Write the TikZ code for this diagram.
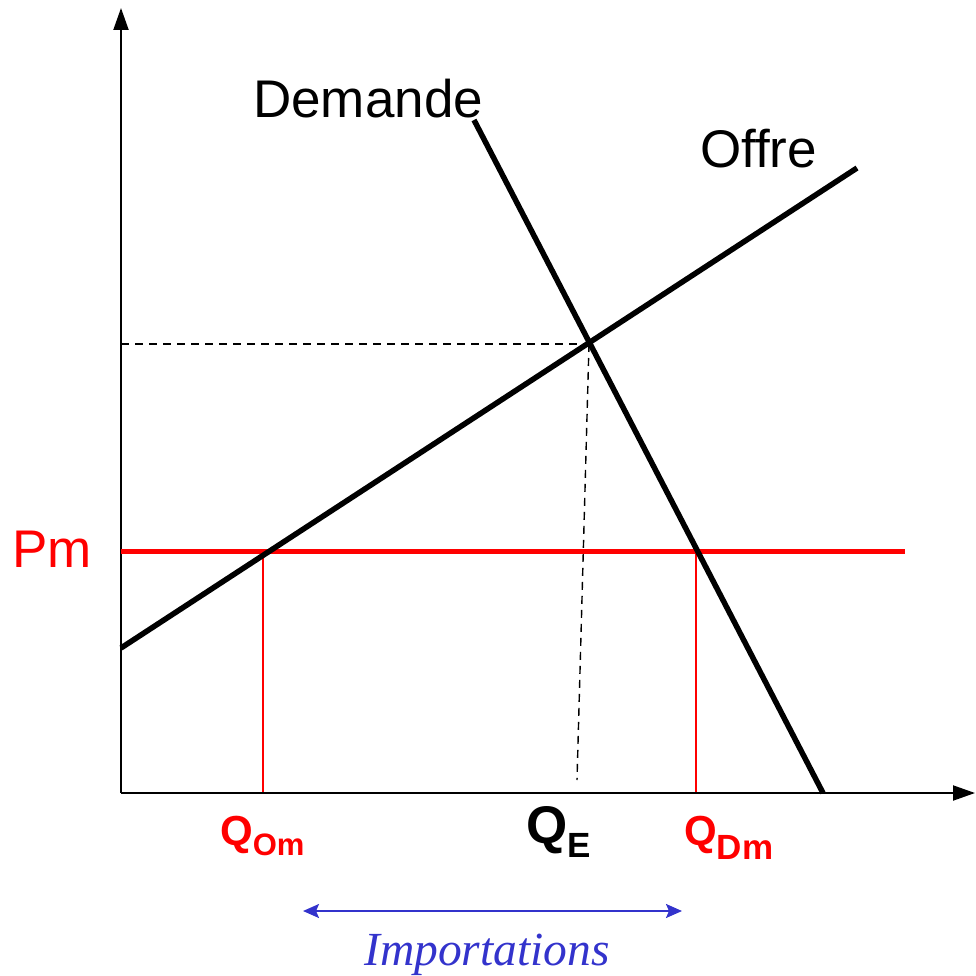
\documentclass[tikz,border=0pt]{standalone}
\usepackage{fontspec}
\setmainfont{Liberation Sans}
\newfontfamily\timesfont{Liberation Serif}
\usetikzlibrary{arrows.meta}
\definecolor{impblue}{RGB}{51,51,204}
\begin{document}
\begin{tikzpicture}[x=1pt,y=-1pt,
  axis/.style={line width=2pt,-{Triangle[length=22pt,width=15pt]}},
  curve/.style={line width=5.5pt},
  pmline/.style={red,line width=5pt},
  redthin/.style={red,line width=1.4pt},
  guide/.style={line width=1.4pt,dash pattern=on 8pt off 6pt},
  lbl/.style={inner sep=0pt,anchor=base west,font=\fontsize{53}{57}\selectfont},
  qlbl/.style={inner sep=0pt,anchor=base west,font=\bfseries}]
\useasboundingbox (0,0) rectangle (975,976);
\coordinate (O) at (121,793);
\coordinate (Ytop) at (121,8);
\coordinate (Xend) at (975,793);
\coordinate (S1) at (121,648);
\coordinate (S2) at (857,168);
\coordinate (D1) at (474,120);
\coordinate (D2) at (823,793);
\coordinate (E) at (589,344);
\coordinate (Ey) at (121,344);
\coordinate (Ex) at (577,780);
\coordinate (P1) at (121,551);
\coordinate (P2) at (905,551);
\coordinate (QO) at (263,551);
\coordinate (QOb) at (263,793);
\coordinate (QD) at (696,551);
\coordinate (QDb) at (696,793);
\coordinate (A1) at (303,911);
\coordinate (A2) at (682,911);
% guides
\draw[guide] (Ey) -- (E);
\draw[guide] (E) -- (Ex);
% red thin
\draw[redthin] (QO) -- (QOb);
\draw[redthin] (QD) -- (QDb);
% axes
\draw[axis] (O) -- (Ytop);
\draw[axis] (O) -- (Xend);
% Pm line
\draw[pmline] (P1) -- (P2);
% curves
\draw[curve] (S1) -- (S2);
\draw[curve] (D1) -- (D2);
% labels
\node[lbl] (dem) at (253,118) {Demande};
\node[lbl] (off) at (700,168) {Offre};
\node[lbl,text=red] (pm) at (12,567) {Pm};
\node[qlbl,text=red] (qom) at (220,845) {\fontsize{42}{44}\selectfont Q\raisebox{-10pt}{\fontsize{31}{33}\selectfont Om}};
\node[qlbl] (qe) at (526,843) {\fontsize{53}{55}\selectfont Q\raisebox{-14pt}{\fontsize{35}{37}\selectfont E}};
\node[qlbl,text=red] (qdm) at (684,845) {\fontsize{42}{44}\selectfont Q\raisebox{-14pt}{\fontsize{35}{37}\selectfont Dm}};
% importations arrow
\draw[impblue,line width=2pt,{Stealth[length=16pt,width=14pt,inset=3pt]}-{Stealth[length=16pt,width=14pt,inset=3pt]}] (A1) -- (A2);
\node[inner sep=0pt,anchor=base west,text=impblue,font=\timesfont\itshape\fontsize{47.5}{50}\selectfont] (imp) at (364,965) {Importations};
\end{tikzpicture}
\end{document}
